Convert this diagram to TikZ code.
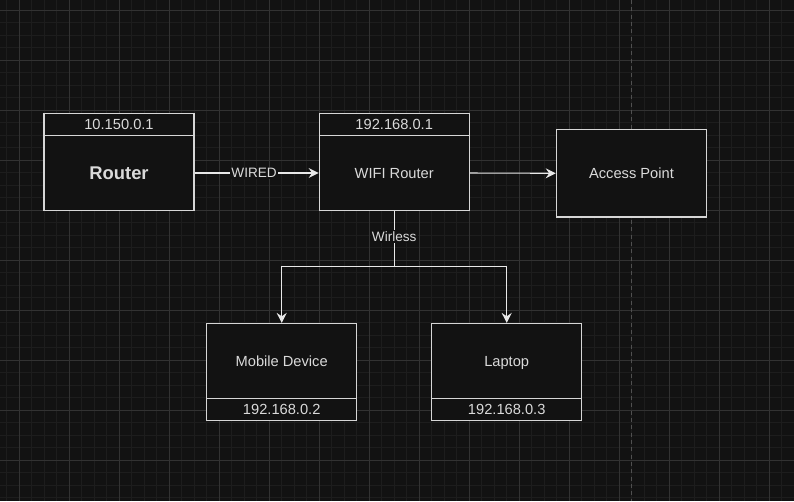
\documentclass[tikz,border=0pt]{standalone}
\usepackage{fontspec}
\setmainfont{Liberation Sans}
\usetikzlibrary{arrows.meta}
\definecolor{bgc}{RGB}{18,18,18}
\definecolor{minorc}{RGB}{29,29,29}
\definecolor{majorc}{RGB}{50,50,50}
\definecolor{pagec}{RGB}{80,80,80}
\definecolor{strokec}{RGB}{214,214,214}
\definecolor{txtc}{RGB}{218,218,218}
\definecolor{linec}{RGB}{232,232,232}
\tikzset{
  box/.style={draw=strokec, fill=bgc, line width=0.9pt, text=txtc, inner sep=0pt,
    minimum width=112.5pt, text height=7.9pt, text depth=0pt,
    font=\fontsize{11pt}{13pt}\selectfont},
  hdr/.style={box, minimum height=16.9pt},
  bodyb/.style={box, minimum height=56pt},
  bigb/.style={box, minimum height=65.5pt, minimum width=112.8pt},
  conn/.style={draw=linec, line width=0.8pt},
  arr/.style={conn, -{Stealth[length=7.5pt,width=7.5pt,inset=2.6pt]}},
  lbl/.style={fill=bgc, text=txtc, inner sep=1pt, font=\fontsize{10.2pt}{12pt}\selectfont},
  minorl/.style={draw=minorc, line width=0.7pt},
  majorl/.style={draw=majorc, line width=0.7pt}
}
\begin{document}
\begin{tikzpicture}[x=0.75pt,y=-0.75pt]
\useasboundingbox (0,0) rectangle (794,501);
\fill[bgc] (0,0) rectangle (794,501);
% grid
\foreach \i in {0,...,63} { \draw[minorl] ({6.8+12.5*\i},0) -- ++(0,501); }
\foreach \i in {0,...,39} { \draw[minorl] (0,{10.3+12.5*\i}) -- ++(794,0); }
\foreach \i in {0,...,15} { \draw[majorl] ({19.3+50*\i},0) -- ++(0,501); }
\foreach \i in {0,...,9} { \draw[majorl] (0,{10.3+50*\i}) -- ++(794,0); }
\draw[draw=pagec, line width=0.75pt, dash pattern=on 3pt off 2.5pt] (631.7,0) -- (631.7,501);
% nodes
\node[hdr] (rh) at (119,124.5) {10.150.0.1};
\node[bodyb, font=\fontsize{13.8pt}{16pt}\selectfont\bfseries, text height=9.9pt] (rb) at (119,173) {Router};
\node[hdr] (wh) at (394.2,124.5) {192.168.0.1};
\node[bodyb] (wb) at (394.2,173) {WIFI Router};
\node[bigb] (ap) at (631.5,173.3) {Access Point};
\node[bodyb] (mb) at (281.7,360.8) {Mobile Device};
\node[hdr] (mf) at (281.7,409.5) {192.168.0.2};
\node[bodyb] (lb) at (506.7,360.8) {Laptop};
\node[hdr] (lf) at (506.7,409.5) {192.168.0.3};
\coordinate (j) at (394.2,266.7);
% connectors
\draw[arr] (rb.east) -- node[lbl, pos=0.48] {WIRED} (wb.west);
\draw[arr] (wb.east) -- (ap.west);
\draw[conn] (wb.south) -- node[lbl, pos=0.46] {Wirless} (j);
\draw[arr] (j) -| (mb.north);
\draw[arr] (j) -| (lb.north);
\end{tikzpicture}
\end{document}
